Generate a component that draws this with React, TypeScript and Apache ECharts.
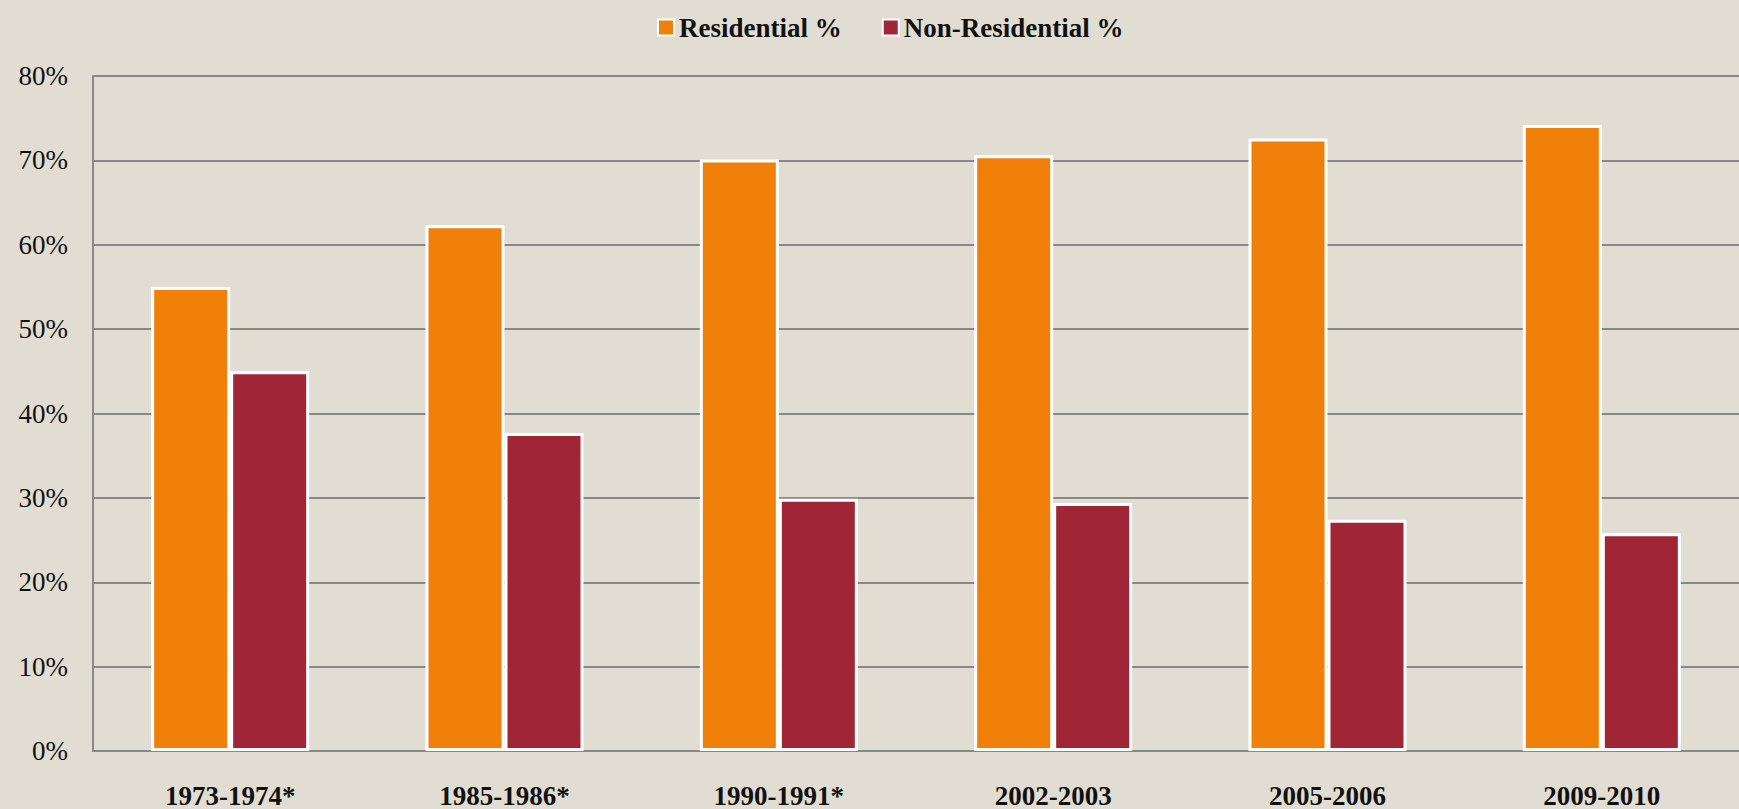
import React, { useEffect, useRef } from "react";
import * as echarts from "echarts";

const categories = ["1973-1974*", "1985-1986*", "1990-1991*", "2002-2003", "2005-2006", "2009-2010"];
const residential = [55.0, 62.3, 70.1, 70.6, 72.6, 74.2];
const nonResidential = [45.0, 37.7, 29.9, 29.4, 27.4, 25.8];
const yTicks = [0, 10, 20, 30, 40, 50, 60, 70, 80];

export default function App() {
  const ref = useRef<HTMLDivElement>(null);
  useEffect(() => {
    document.body.style.margin = "0";
    const chart = echarts.init(ref.current!, null, { renderer: "svg" });
    const serif = "'Liberation Serif', 'DejaVu Serif', serif";
    chart.setOption({
      animation: false,
      backgroundColor: "#E2DDD2",
      textStyle: { fontFamily: serif },
      legend: {
        top: 9,
        left: 652,
        itemWidth: 16,
        itemHeight: 16,
        itemGap: 40,
        icon: "rect",
        textStyle: { fontFamily: serif, fontWeight: "bold", fontSize: 27, color: "#111" },
        data: ["Residential %", "Non-Residential %"],
      },
      grid: { left: 93, right: 0, top: 76, bottom: 57, containLabel: false },
      xAxis: {
        type: "category",
        data: categories,
        axisLine: { lineStyle: { color: "#888888", width: 2 } },
        axisTick: { show: false },
        axisLabel: {
          margin: 31,
          fontFamily: serif,
          fontWeight: "bold",
          fontSize: 27,
          color: "#111",
        },
      },
      yAxis: {
        type: "value",
        min: yTicks[0],
        max: yTicks[yTicks.length - 1],
        interval: 10,
        axisLine: { show: true, lineStyle: { color: "#888888", width: 2 } },
        axisTick: { show: false },
        splitLine: { lineStyle: { color: "#888888", width: 2 } },
        axisLabel: {
          margin: 25,
          fontFamily: serif,
          fontSize: 27,
          color: "#111",
          formatter: (v: number) => v + "%",
        },
      },
      series: [
        {
          name: "Residential %",
          type: "bar",
          data: residential,
          barWidth: 79,
          barGap: "0%",
          itemStyle: { color: "#F0800A", borderColor: "#ffffff", borderWidth: 3 },
        },
        {
          name: "Non-Residential %",
          type: "bar",
          data: nonResidential,
          barWidth: 79,
          barGap: "0%",
          itemStyle: { color: "#A02637", borderColor: "#ffffff", borderWidth: 3 },
        },
      ],
    });
    return () => chart.dispose();
  }, []);
  return <div ref={ref} style={{ width: 1739, height: 809 }} />;
}
